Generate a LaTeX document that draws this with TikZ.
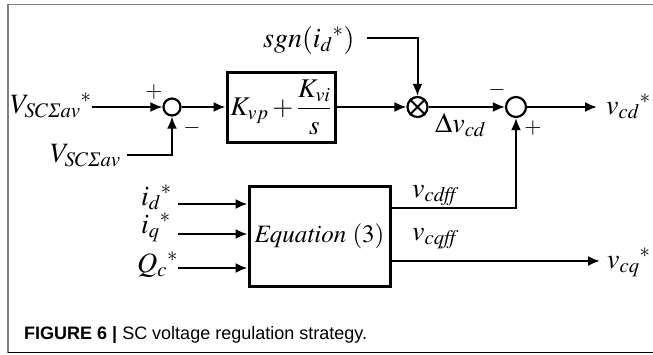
\documentclass[tikz,border=0pt]{standalone}
\usepackage{amsmath}
\usepackage{mathptmx}
\usepackage{fontspec}
\setmainfont{Liberation Serif}
\newfontfamily\capfont{Liberation Sans}
\usetikzlibrary{arrows.meta}
\newcommand{\stA}{{}^{*}}
\newcommand{\SigI}{\text{\itshape Σ}}
\begin{document}
\begin{tikzpicture}[x=1pt,y=-1pt,
  conn/.style={line width=2pt,-{Latex[length=12pt,width=10pt]}},
  plain/.style={line width=2pt},
  sumnode/.style={circle,draw,line width=2.2pt,inner sep=0pt},
  blk/.style={draw,line width=3pt,inner sep=0pt},
  lbl/.style={inner sep=0pt,anchor=base west,font=\fontsize{28}{30}\selectfont},
  sgnlbl/.style={inner sep=0pt,font=\fontsize{22}{24}\selectfont},
  caplbl/.style={inner sep=0pt,anchor=base west,font=\capfont\fontsize{18}{20}\selectfont}]
\useasboundingbox (0,0) rectangle (653,354);
% frame
\draw[gray,line width=1.5pt] (8,353) -- (8,4.5) -- (653,4.5);
\draw[black,line width=1.5pt] (8,352.5) -- (653,352.5);
% blocks
\node[sumnode,minimum size=17pt] (s1) at (172,107) {};
\node[blk,minimum width=108pt,minimum height=70pt] (pi) at (281,107)
  {\fontsize{27}{29}\selectfont$K_{vp}+\dfrac{K_{vi}}{s}$};
\node[sumnode,minimum size=20pt] (m) at (417.5,107) {};
\draw[line width=2pt] (m.45) -- (m.225) (m.135) -- (m.315);
\node[sumnode,minimum size=20pt] (s2) at (516,107) {};
\node[blk,minimum width=141pt,minimum height=100pt] (eq) at (319.5,236.5)
  {\fontsize{25}{27}\selectfont$\mathit{Equation}\ (3)$};
% labels
\node[lbl] (lv1) at (10,113) {$V_{SC\SigI av}\stA$};
\node[lbl] (lv2) at (50,162) {$V_{SC\SigI av}$};
\node[lbl] (lsgn) at (263,47) {$sgn(i_d\stA)$};
\node[lbl] (ldv) at (435,132) {$\Delta v_{cd}$};
\node[lbl] (lvcd) at (606,114) {$v_{cd}\stA$};
\node[lbl] (lff1) at (412,197) {$v_{\mathit{cdff}}$};
\node[lbl] (lff2) at (412,240) {$v_{\mathit{cqff}}$};
\node[lbl] (lvcq) at (607,268) {$v_{cq}\stA$};
\node[lbl] (lid) at (141,205) {$i_d\stA$};
\node[lbl] (liq) at (141,233) {$i_q\stA$};
\node[lbl] (lqc) at (137,272) {$Q_c\stA$};
\node[sgnlbl] (p1) at (154,92) {$+$};
\node[sgnlbl] (n1) at (192,128) {$-$};
\node[sgnlbl] (n2) at (497,90) {$-$};
\node[sgnlbl] (p2) at (533,128) {$+$};
% coordinates
\coordinate (a1) at (92,107);
\coordinate (a2) at (127,155);
\coordinate (a3) at (367,38);
\coordinate (o1) at (597,107);
\coordinate (f1) at (390,208);
\coordinate (f2) at (390,261);
\coordinate (o2) at (600,261);
\coordinate (i1) at (178,204);
\coordinate (i2) at (178,234);
\coordinate (i3) at (178,268);
% connectors
\draw[conn] (a1) -- (s1.west);
\draw[conn] (a2) -| (s1.south);
\draw[conn] (s1.east) -- (pi.west);
\draw[conn] (pi.east) -- (m.west);
\draw[conn] (a3) -| (m.north);
\draw[conn] (m.east) -- (s2.west);
\draw[conn] (s2.east) -- (o1);
\draw[conn] (f1) -| (s2.south);
\draw[conn] (f2) -- (o2);
\draw[conn] (i1) -- (eq.west |- i1);
\draw[conn] (i2) -- (eq.west |- i2);
\draw[conn] (i3) -- (eq.west |- i3);
% caption
\node[caplbl] (cap) at (24,339) {\textbf{FIGURE 6 |} SC voltage regulation strategy.};
\end{tikzpicture}
\end{document}
